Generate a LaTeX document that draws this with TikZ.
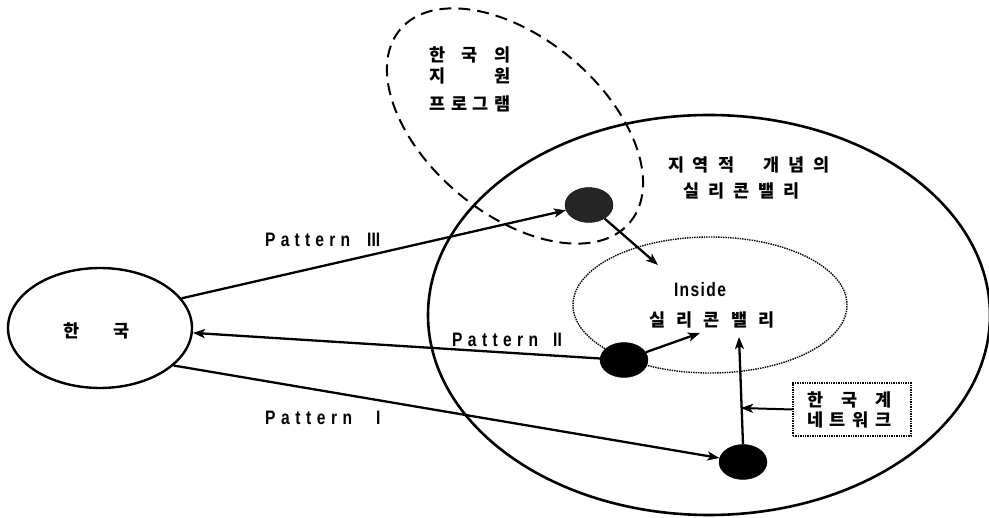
\documentclass[tikz,border=0pt]{standalone}
\usepackage{fontspec}
\setmainfont{Noto Sans CJK KR}
\newfontfamily\latfont[FakeStretch=0.8]{Liberation Sans}
\usetikzlibrary{arrows.meta,shapes.geometric}
\newcommand\spr[2]{\makebox[#1pt][s]{#2}}
\begin{document}
\begin{tikzpicture}[x=1pt,y=-1pt,
  kt/.style={inner sep=0pt,font=\fontsize{17.5}{18}\selectfont\bfseries},
  pt/.style={inner sep=0pt,anchor=west,font=\latfont\fontsize{19.5}{20}\selectfont\bfseries},
  arr/.style={line width=2.3pt,-{Stealth[length=12pt,width=9pt,inset=3pt]}},
  blob/.style={ellipse,fill=black,draw=black,inner sep=0pt,minimum width=48pt,minimum height=35pt}]
\useasboundingbox (0,0) rectangle (989,518);
% big ellipses
\node[ellipse,draw,line width=2.6pt,minimum width=562pt,minimum height=400pt] (valley) at (709,315) {};
\node[ellipse,draw,densely dotted,line width=1.4pt,minimum width=274pt,minimum height=136pt] (inside) at (710,305) {};
\node[ellipse,draw,dash pattern=on 12pt off 7pt,line width=2pt,minimum width=300pt,minimum height=176pt,rotate=-40] (support) at (515,126) {};
\node[ellipse,draw,line width=2.4pt,minimum width=184pt,minimum height=120pt] (korea) at (100,328) {};
\node[draw,densely dotted,line width=1.4pt,minimum width=118pt,minimum height=53pt] (net) at (852,409.5) {};
% blobs
\node[blob,fill=black!85] (e1) at (589,205) {};
\node[blob] (e2) at (624,360) {};
\node[blob] (e3) at (743,462) {};
% texts
\node[kt] (t1) at (470,55) {\spr{81}{한\hfill 국\hfill 의}};
\node[kt] (t2) at (470,76) {\spr{81}{지\hfill 원}};
\node[kt] (t3) at (470,104) {\spr{81}{프\hfill 로\hfill 그\hfill 램}};
\node[kt] (r1) at (749,165) {\spr{162}{지\hfill 역\hfill 적\hfill\hspace{12pt}\hfill 개\hfill 념\hfill 의}};
\node[kt] (r2) at (741.5,191) {\spr{117}{실\hfill 리\hfill 콘\hfill 밸\hfill 리}};
\node[inner sep=0pt,font=\latfont\fontsize{19.5}{20}\selectfont\bfseries] (in1) at (700,290) {\spr{52}{I\hfill n\hfill s\hfill i\hfill d\hfill e}};
\node[kt] (in2) at (712,320) {\spr{125}{실\hfill 리\hfill 콘\hfill 밸\hfill 리}};
\node[kt] (n1) at (849.5,400) {\spr{85}{한\hfill 국\hfill 계}};
\node[kt] (n2) at (849.5,420) {\spr{85}{네\hfill 트\hfill 워\hfill 크}};
\node[kt] (kt) at (96.5,331) {\spr{67}{한\hfill 국}};
\node[pt] (p3) at (265,240) {\spr{85}{P\hfill a\hfill t\hfill t\hfill e\hfill r\hfill n}\hspace{17pt}III};
\node[pt] (p2) at (452,340) {\spr{86}{P\hfill a\hfill t\hfill t\hfill e\hfill r\hfill n}\hspace{15pt}II};
\node[pt] (p1) at (265,418) {\spr{87}{P\hfill a\hfill t\hfill t\hfill e\hfill r\hfill n}\hspace{24pt}I};
% coordinates
\coordinate (a1) at (658,265);
\coordinate (a2) at (700,333);
\coordinate (a3) at (739,337);
\coordinate (b) at (741,408);
% connectors
\draw[arr] (korea.20) -- (e1);
\draw[arr] (e2) -- (korea.-3);
\draw[arr] (korea.-27) -- (e3);
\draw[arr] (e1) -- (a1);
\draw[arr] (e2) -- (a2);
\draw[arr] (e3.north) -- (a3);
\draw[arr,line width=2pt] (net.west) -- (b);
\end{tikzpicture}
\end{document}
